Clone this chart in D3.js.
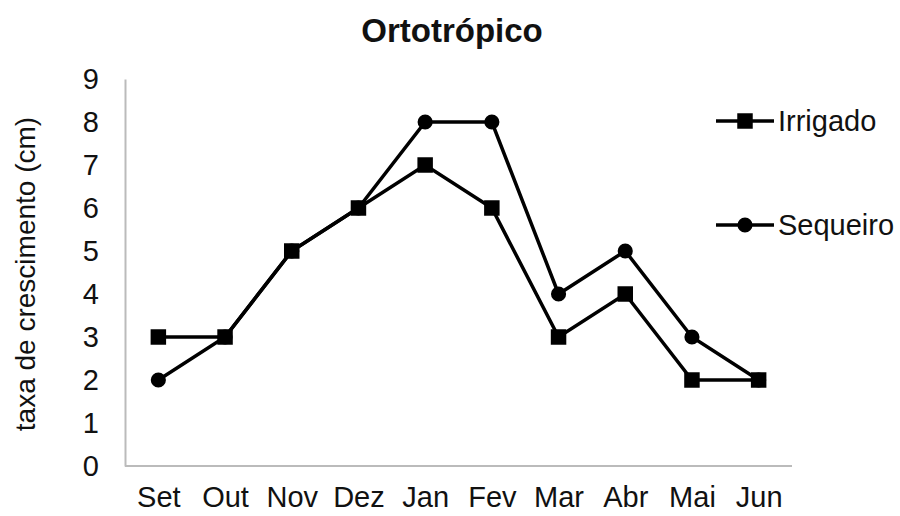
<!DOCTYPE html>
<html>
<head>
<meta charset="utf-8">
<script src="https://cdn.jsdelivr.net/npm/d3@7"></script>
<style>
  body { margin: 0; background: #fff; }
  text { font-family: "Liberation Sans", Arial, sans-serif; fill: #111; }
</style>
</head>
<body>
<svg width="900" height="516"></svg>
<script>
// dados
const months = ["Set", "Out", "Nov", "Dez", "Jan", "Fev", "Mar", "Abr", "Mai", "Jun"];
const irrigado = [3, 3, 5, 6, 7, 6, 3, 4, 2, 2];
const sequeiro = [2, 3, 5, 6, 8, 8, 4, 5, 3, 2];
const yTicks = [0, 1, 2, 3, 4, 5, 6, 7, 8, 9];

const svg = d3.select("svg");
const plotLeft = 125, plotRight = 792, plotTop = 79, plotBottom = 466;

const x = d3.scalePoint().domain(months).range([plotLeft, plotRight]).padding(0.5);
const y = d3.scaleLinear().domain([0, 9]).range([plotBottom, plotTop]);

// eixos
const yAxis = svg.append("g")
  .attr("transform", `translate(${plotLeft},0)`)
  .call(d3.axisLeft(y).tickValues(yTicks).tickSize(0).tickPadding(26));
yAxis.select(".domain").attr("stroke", "#bbb").attr("stroke-width", 2);
yAxis.selectAll("text").style("font-size", "29px").attr("fill", "#111");

const xAxis = svg.append("g")
  .attr("transform", `translate(0,${plotBottom})`)
  .call(d3.axisBottom(x).tickSize(0).tickPadding(20));
xAxis.select(".domain").attr("stroke", "#bbb").attr("stroke-width", 2)
  .attr("d", `M${plotLeft},0H${plotRight}`);
xAxis.selectAll("text").style("font-size", "29px").attr("fill", "#111");

// título
svg.append("text")
  .attr("x", 452).attr("y", 42)
  .attr("text-anchor", "middle")
  .style("font-size", "33px").style("font-weight", "bold")
  .text("Ortotrópico");

svg.append("text")
  .attr("transform", "translate(35,274) rotate(-90)")
  .attr("text-anchor", "middle")
  .style("font-size", "28px")
  .text("taxa de crescimento (cm)");

const line = d3.line().x((d, i) => x(months[i])).y(d => y(d));
const squareSize = 240, circleSize = 180;

function drawSeries(values, shape) {
  svg.append("path")
    .datum(values)
    .attr("fill", "none")
    .attr("stroke", "#000")
    .attr("stroke-width", 3.5)
    .attr("d", line);
  const sym = d3.symbol().type(shape === "square" ? d3.symbolSquare : d3.symbolCircle)
    .size(shape === "square" ? squareSize : circleSize);
  svg.selectAll(null)
    .data(values)
    .join("path")
    .attr("transform", (d, i) => `translate(${x(months[i])},${y(d)})`)
    .attr("d", sym)
    .attr("fill", "#000");
}

drawSeries(irrigado, "square");
drawSeries(sequeiro, "circle");

// legenda
const legend = [
  { name: "Irrigado", shape: d3.symbolSquare, size: squareSize, y: 121 },
  { name: "Sequeiro", shape: d3.symbolCircle, size: circleSize, y: 225 }
];
legend.forEach(l => {
  svg.append("line")
    .attr("x1", 716).attr("x2", 774)
    .attr("y1", l.y).attr("y2", l.y)
    .attr("stroke", "#000").attr("stroke-width", 3.5);
  svg.append("path")
    .attr("transform", `translate(745,${l.y})`)
    .attr("d", d3.symbol().type(l.shape).size(l.size))
    .attr("fill", "#000");
  svg.append("text")
    .attr("x", 778).attr("y", l.y + 10)
    .style("font-size", "29px")
    .text(l.name);
});
</script>
</body>
</html>
